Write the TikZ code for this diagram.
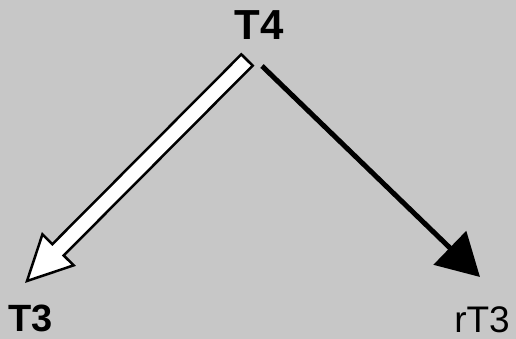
\documentclass[tikz,border=0pt]{standalone}
\usepackage{fontspec}
\setmainfont{Liberation Sans}
\usetikzlibrary{arrows.meta,calc}
\begin{document}
\begin{tikzpicture}[x=1pt,y=-1pt,
  lbl/.style={inner sep=0pt,anchor=base},
  boldlbl/.style={lbl,font=\bfseries\fontsize{42}{42}\selectfont},
  hollowarrow/.style={fill=white,draw=black,line width=2.5pt,line join=miter},
  solidarrow/.style={draw=black,line width=5pt,-{Triangle[length=42pt,width=46pt]}}]
\useasboundingbox (0,0) rectangle (516,339);
\fill[black!22] (0,0) rectangle (516,339);
% labels
\node[boldlbl] (T4) at (259,40) {T4};
\node[boldlbl,font=\bfseries\fontsize{38}{38}\selectfont] (T3) at (30.5,331) {T3};
\node[lbl,font=\fontsize{37}{37}\selectfont] (rT3) at (482,332) {rT3};
% arrow end points
\coordinate (s1) at (247,60);
\coordinate (e1) at (27,281);
\coordinate (s2) at (262,66);
\coordinate (e2) at (480,277);
% hollow white arrow T4 -> T3
\coordinate (b1) at ($(e1)!44pt!(s1)$);
\path[hollowarrow]
  ($(s1)!8pt!90:(e1)$) -- ($(b1)!8pt!-90:(s1)$) -- ($(b1)!22pt!-90:(s1)$) --
  (e1) -- ($(b1)!22pt!90:(s1)$) -- ($(b1)!8pt!90:(s1)$) --
  ($(s1)!8pt!-90:(e1)$) -- cycle;
% solid black arrow T4 -> rT3
\draw[solidarrow] (s2) -- (e2);
\end{tikzpicture}
\end{document}
